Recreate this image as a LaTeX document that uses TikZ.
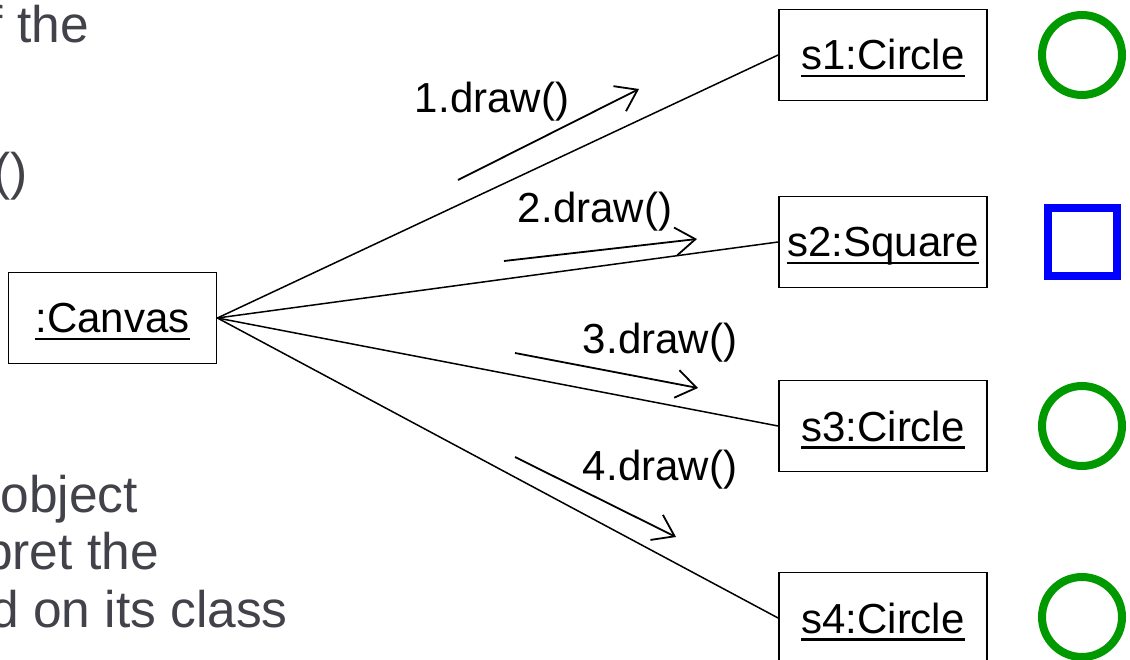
\documentclass[tikz,border=0pt]{standalone}
\usepackage{fontspec}
\setmainfont{Liberation Sans}
\usetikzlibrary{arrows.meta}
\definecolor{graytext}{HTML}{42424A}
\definecolor{shapegreen}{HTML}{009900}
\definecolor{shapeblue}{HTML}{0000FF}
\newcommand\objul[1]{\setbox0\hbox{#1}\rlap{\rule[-7.5pt]{\wd0}{2.2pt}}\box0}
\tikzset{
  objbox/.style={draw, line width=1.8pt, minimum width=208pt, minimum height=91pt,
    inner sep=0pt, text height=30pt, text depth=0pt, font=\fontsize{42}{48}\selectfont},
  msglabel/.style={anchor=base, inner sep=0pt, font=\fontsize{42}{48}\selectfont},
  link/.style={line width=1.5pt},
  msgarrow/.style={line width=1.8pt, -{Straight Barb[length=20pt,width=28pt,line width=1.8pt]}},
  sidetext/.style={anchor=base east, inner sep=0pt, text=graytext, font=\fontsize{51.5}{56}\selectfont},
  greenring/.style={draw=shapegreen, line width=8pt},
  bluesquare/.style={draw=shapeblue, line width=7.5pt}
}
\begin{document}
\begin{tikzpicture}[x=1pt,y=-1pt]
\useasboundingbox (0,0) rectangle (1130,660);
\clip (0,0) rectangle (1130,660);
\fill[white] (0,0) rectangle (1130,660);

% side text fragments
\node[sidetext] (t1) at (89,43) {of the};
\node[sidetext] (t2) at (28,190) {()};
\node[sidetext] (t3) at (138,512) {object};
\node[sidetext] (t4) at (159,569) {rpret the};
\node[sidetext] (t5) at (288,627) {ed on its class};

% objects
\node[objbox] (canvas) at (112.5,318) {\objul{:Canvas}};
\node[objbox] (s1) at (883,55) {\objul{s1:Circle}};
\node[objbox] (s2) at (883,242) {\objul{s2:Square}};
\node[objbox] (s3) at (883,426) {\objul{s3:Circle}};
\node[objbox] (s4) at (883,618) {\objul{s4:Circle}};

% links
\draw[link] (canvas.east) -- (s1.west);
\draw[link] (canvas.east) -- (s2.west);
\draw[link] (canvas.east) -- (s3.west);
\draw[link] (canvas.east) -- (s4.west);

% messages
\coordinate (m1a) at (458,180); \coordinate (m1b) at (639,89);
\coordinate (m2a) at (504,261); \coordinate (m2b) at (697,239);
\coordinate (m3a) at (515,353); \coordinate (m3b) at (698,388);
\coordinate (m4a) at (515,457); \coordinate (m4b) at (676,537);
\draw[msgarrow] (m1a) -- (m1b);
\draw[msgarrow] (m2a) -- (m2b);
\draw[msgarrow] (m3a) -- (m3b);
\draw[msgarrow] (m4a) -- (m4b);
\node[msglabel] (l1) at (492,113) {1.draw()};
\node[msglabel] (l2) at (595,223) {2.draw()};
\node[msglabel] (l3) at (660,353) {3.draw()};
\node[msglabel] (l4) at (660,480) {4.draw()};

% shapes
\draw[greenring] (1082,55) circle (40);
\draw[bluesquare] (1048,208) rectangle (1117,276);
\draw[greenring] (1082,426) circle (40);
\draw[greenring] (1082,617) circle (40);
\end{tikzpicture}
\end{document}
